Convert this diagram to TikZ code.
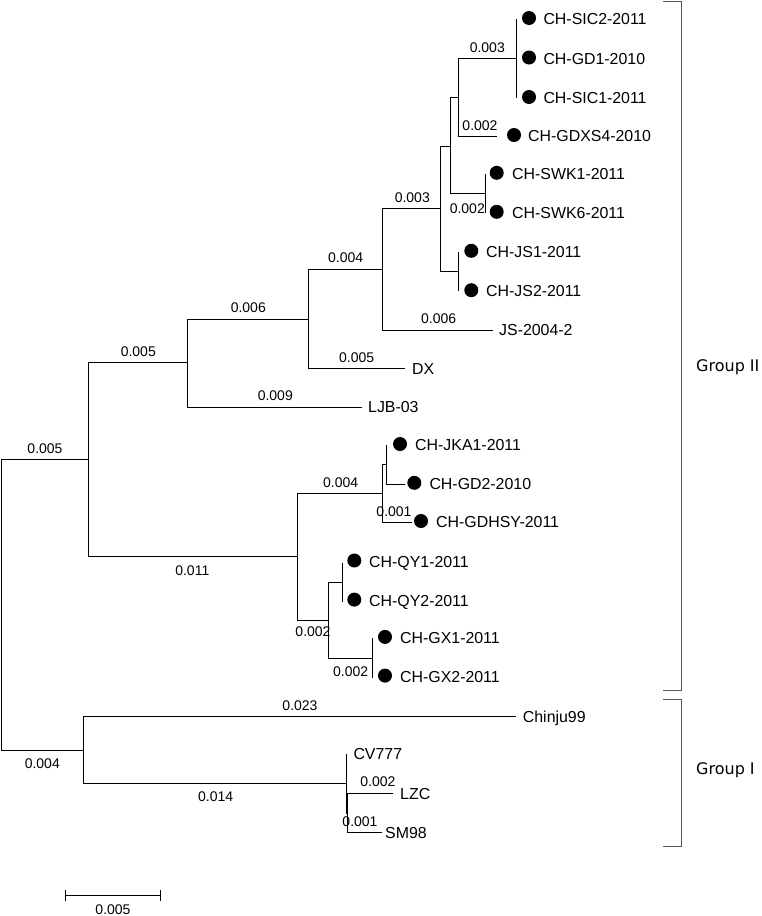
\documentclass[tikz,border=0pt]{standalone}
\usepackage{fontspec}
\setmainfont{Liberation Sans}
\newfontfamily\grpfont{DejaVu Sans}
\begin{document}
\begin{tikzpicture}[x=1pt,y=-1pt,
  branch/.style={line width=1pt,black},
  leaflab/.style={anchor=west,inner sep=0pt,text height=11.4pt,text depth=0pt,font=\fontsize{15.9}{18}\selectfont},
  blen/.style={inner sep=0pt,text height=10pt,text depth=0pt,font=\fontsize{14}{16}\selectfont},
  dotmark/.style={circle,fill=black,inner sep=0pt,minimum size=14pt},
  grplab/.style={anchor=west,inner sep=0pt,font=\grpfont\fontsize{16}{18}\selectfont},
  brk/.style={line width=1pt,black!65}]
\useasboundingbox (0,0) rectangle (761,916);
% internal nodes
\coordinate (R) at (1,605);
\coordinate (GII) at (88,459.8);
\coordinate (GI) at (83,750.3);
\coordinate (A) at (187.3,362.8);
\coordinate (B) at (308,319);
\coordinate (C) at (382.7,269.3);
\coordinate (D) at (440.7,208.7);
\coordinate (E) at (450,146);
\coordinate (F) at (458,97.5);
\coordinate (G) at (516.7,58.5);
\coordinate (H) at (485.3,193);
\coordinate (J) at (458.7,271.3);
\coordinate (K) at (297.3,556.8);
\coordinate (L) at (382.3,493.6);
\coordinate (M) at (386.7,464.8);
\coordinate (N) at (328.3,620);
\coordinate (P) at (342.7,582.2);
\coordinate (Q) at (372,658);
\coordinate (S) at (346.7,783.5);
\coordinate (T) at (347.7,813);
% leaf ends
\coordinate (sic2) at (516.7,19);
\coordinate (gd1) at (516.7,58.5);
\coordinate (sic1) at (516.7,98);
\coordinate (gdxs4) at (497.3,136);
\coordinate (swk1) at (485.3,173.5);
\coordinate (swk6) at (485.3,212.5);
\coordinate (js1) at (458.7,251.5);
\coordinate (js2) at (458.7,291);
\coordinate (js04) at (493,330);
\coordinate (dx) at (405,368.7);
\coordinate (ljb) at (361.7,407);
\coordinate (jka1) at (386.7,445);
\coordinate (gd2) at (405,484.5);
\coordinate (gdhsy) at (411.7,522.5);
\coordinate (qy1) at (342.7,562.7);
\coordinate (qy2) at (342.7,601.7);
\coordinate (gx1) at (372,638.3);
\coordinate (gx2) at (372,677.7);
\coordinate (chinju) at (516,716.7);
\coordinate (cv777) at (346.7,754);
\coordinate (lzc) at (392.7,793.3);
\coordinate (sm98) at (381.7,832.7);
% branches
\draw[branch] (R) |- (GII); \draw[branch] (R) |- (GI);
\draw[branch] (GII) |- (A); \draw[branch] (GII) |- (K);
\draw[branch] (A) |- (B); \draw[branch] (A) |- (ljb);
\draw[branch] (B) |- (C); \draw[branch] (B) |- (dx);
\draw[branch] (C) |- (D); \draw[branch] (C) |- (js04);
\draw[branch] (D) |- (E); \draw[branch] (D) |- (J);
\draw[branch] (E) |- (F); \draw[branch] (E) |- (H);
\draw[branch] (F) |- (G); \draw[branch] (F) |- (gdxs4);
\draw[branch] (G) |- (sic2); \draw[branch] (G) |- (sic1);
\draw[branch] (H) |- (swk1); \draw[branch] (H) |- (swk6);
\draw[branch] (J) |- (js1); \draw[branch] (J) |- (js2);
\draw[branch] (K) |- (L); \draw[branch] (K) |- (N);
\draw[branch] (L) |- (M); \draw[branch] (L) |- (gdhsy);
\draw[branch] (M) |- (jka1); \draw[branch] (M) |- (gd2);
\draw[branch] (N) |- (P); \draw[branch] (N) |- (Q);
\draw[branch] (P) |- (qy1); \draw[branch] (P) |- (qy2);
\draw[branch] (Q) |- (gx1); \draw[branch] (Q) |- (gx2);
\draw[branch] (GI) |- (chinju); \draw[branch] (GI) |- (S);
\draw[branch] (S) |- (cv777); \draw[branch] (S) |- (T);
\draw[branch] (T) |- (lzc); \draw[branch] (T) |- (sm98);
% dots
\node[dotmark] (dsic2) at (529,18) {};
\node[dotmark] (dgd1) at (529,57.5) {};
\node[dotmark] (dsic1) at (529,97) {};
\node[dotmark] (dgdxs4) at (514,135) {};
\node[dotmark] (dswk1) at (496.7,172.8) {};
\node[dotmark] (dswk6) at (496.7,211.8) {};
\node[dotmark] (djs1) at (471.3,250.8) {};
\node[dotmark] (djs2) at (471.3,290.2) {};
\node[dotmark] (djka1) at (400,444) {};
\node[dotmark] (dgd2) at (414.3,482.8) {};
\node[dotmark] (dgdhsy) at (421,521) {};
\node[dotmark] (dqy1) at (354.3,560.5) {};
\node[dotmark] (dqy2) at (354.3,599.6) {};
\node[dotmark] (dgx1) at (385,636.9) {};
\node[dotmark] (dgx2) at (385,675.6) {};
% leaf labels
\node[leaflab] (lsic2) at (543.3,19) {CH-SIC2-2011};
\node[leaflab] (lgd1) at (543.3,58.5) {CH-GD1-2010};
\node[leaflab] (lsic1) at (543.3,97.5) {CH-SIC1-2011};
\node[leaflab] (lgdxs4) at (528,136) {CH-GDXS4-2010};
\node[leaflab] (lswk1) at (512,173.5) {CH-SWK1-2011};
\node[leaflab] (lswk6) at (512,212.5) {CH-SWK6-2011};
\node[leaflab] (ljs1) at (486,251.5) {CH-JS1-2011};
\node[leaflab] (ljs2) at (486,291) {CH-JS2-2011};
\node[leaflab] (ljs04) at (499,330) {JS-2004-2};
\node[leaflab] (ldx) at (412,368.7) {DX};
\node[leaflab] (lljb) at (368,407) {LJB-03};
\node[leaflab] (ljka1) at (415,445) {CH-JKA1-2011};
\node[leaflab] (lgd2) at (429.3,484) {CH-GD2-2010};
\node[leaflab] (lgdhsy) at (436,522) {CH-GDHSY-2011};
\node[leaflab] (lqy1) at (369,561.5) {CH-QY1-2011};
\node[leaflab] (lqy2) at (369,600.5) {CH-QY2-2011};
\node[leaflab] (lgx1) at (400,638) {CH-GX1-2011};
\node[leaflab] (lgx2) at (400,677) {CH-GX2-2011};
\node[leaflab] (lchinju) at (522.7,716.7) {Chinju99};
\node[leaflab] (lcv777) at (353.3,754) {CV777};
\node[leaflab] (llzc) at (400,793.3) {LZC};
\node[leaflab] (lsm98) at (385,832.7) {SM98};
% branch lengths
\node[blen] (b1) at (45,448.5) {0.005};
\node[blen] (b2) at (138.3,351.7) {0.005};
\node[blen] (b3) at (248.3,307.3) {0.006};
\node[blen] (b4) at (275.3,395.7) {0.009};
\node[blen] (b5) at (345.7,257.7) {0.004};
\node[blen] (b6) at (356.7,357.3) {0.005};
\node[blen] (b7) at (412.3,197.7) {0.003};
\node[blen] (b8) at (438.7,318.3) {0.006};
\node[blen] (b9) at (487.3,47.7) {0.003};
\node[blen] (b10) at (480,125) {0.002};
\node[blen] (b11) at (467.3,208.3) {0.002};
\node[blen] (b12) at (192.3,570) {0.011};
\node[blen] (b13) at (340.7,482.7) {0.004};
\node[blen] (b14) at (394,511) {0.001};
\node[blen] (b15) at (313,631.7) {0.002};
\node[blen] (b16) at (350.7,671.7) {0.002};
\node[blen] (b17) at (300,705) {0.023};
\node[blen] (b18) at (42.3,763.3) {0.004};
\node[blen] (b19) at (215.7,796.7) {0.014};
\node[blen] (b20) at (378,781.7) {0.002};
\node[blen] (b21) at (360,821.7) {0.001};
% scale bar
\coordinate (sb1) at (65,895.7);
\coordinate (sb2) at (160.7,895.7);
\draw[branch] (sb1) -- (sb2);
\draw[branch] ([yshift=5.5pt]sb1) -- ([yshift=-5.5pt]sb1);
\draw[branch] ([yshift=5.5pt]sb2) -- ([yshift=-5.5pt]sb2);
\node[blen] (sblab) at (113,909.3) {0.005};
% brackets
\coordinate (g2a) at (663.3,1);
\coordinate (g2b) at (681.7,1);
\coordinate (g2c) at (681.7,690.7);
\coordinate (g2d) at (663.3,690.7);
\coordinate (g1a) at (663.3,699);
\coordinate (g1b) at (681.7,699);
\coordinate (g1c) at (681.7,846.7);
\coordinate (g1d) at (663.3,846.7);
\draw[brk] (g2a) -- (g2b) -- (g2c) -- (g2d);
\draw[brk] (g1a) -- (g1b) -- (g1c) -- (g1d);
\node[grplab] (grp2) at (696,367) {Group II};
\node[grplab] (grp1) at (696,770) {Group I};
\end{tikzpicture}
\end{document}
